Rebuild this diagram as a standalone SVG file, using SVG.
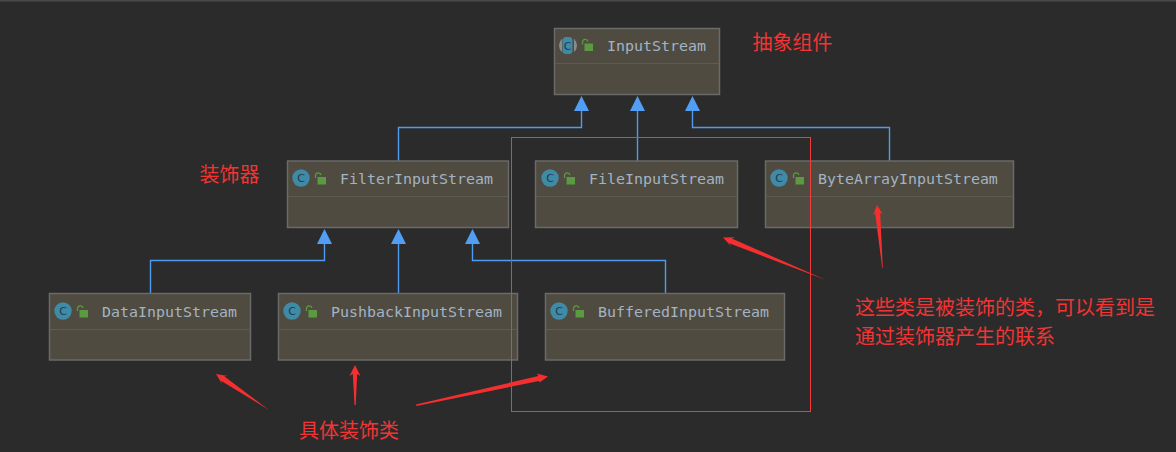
<svg xmlns="http://www.w3.org/2000/svg" width="1176" height="452" viewBox="0 0 1176 452">
<style>
.box{fill:#4f4b41;stroke:#6a6a68;stroke-width:1.5}
.div{stroke:#5e5b53;stroke-width:1.2}
.name{font-family:"DejaVu Sans Mono",monospace;font-size:14.95px;fill:#a2b3c4}
.ci{fill:#3f8aa6}
.cc{font-family:"DejaVu Sans",sans-serif;font-size:11px;fill:#1f3a48;text-anchor:middle}
.lock{fill:#5b9a41}
.shackle{fill:none;stroke:#5b9a41;stroke-width:1.3}
.edge{fill:none;stroke:#4f9bf0;stroke-width:1.4}
.head{fill:#529ef5}
.note{font-family:"Noto Sans CJK SC","Noto Sans CJK JP",sans-serif;font-size:20px;fill:#f23434}
.red{fill:none;stroke:#f03c3c;stroke-width:1}
.arrow{fill:#f52f2f}
</style>
<defs>
<g id="padlock">
<rect class="lock" x="25.500" y="17" width="8.500" height="7.500"/>
<path class="shackle" d="M23.500 18v-2.500a2.800 2.800 0 0 1 5.500-0.500"/>
</g>
<g id="badge">
<circle class="ci" cx="9" cy="18" r="8.700"/>
<text class="cc" x="9" y="22">C</text>
<use href="#padlock"/>
</g>
<g id="abstract-badge">
<circle cx="14" cy="17.500" r="9" fill="#8b8b88"/>
<rect x="8" y="7" width="12" height="21" fill="#4f4b41"/>
<rect x="8.500" y="9" width="10" height="17" rx="3.500" class="ci"/>
<text class="cc" x="13.500" y="21.500">C</text>
</g>
</defs>
<rect width="1176" height="452" fill="#2b2b2b"/>
<rect width="1176" height="1.500" fill="#4a4a4a"/>
<g id="connectors">
<path class="edge" d="M398.500 161V127.500H581.500V110"/>
<path class="edge" d="M637.500 161V110"/>
<path class="edge" d="M889.500 161V127.500H692.500V110"/>
<path class="edge" d="M150.500 293V260.500H324.500V243"/>
<path class="edge" d="M398.500 293V243"/>
<path class="edge" d="M665.500 293V260.500H472.500V243"/>
<polygon class="head" points="581.500,96 574,111 589,111"/>
<polygon class="head" points="637.500,96 630,111 645,111"/>
<polygon class="head" points="692.500,96 685,111 700,111"/>
<polygon class="head" points="324.500,229 317,244 332,244"/>
<polygon class="head" points="398.500,229 391,244 406,244"/>
<polygon class="head" points="472.500,229 465,244 480,244"/>
</g>
<g id="InputStream">
<rect class="box" x="554.500" y="28.500" width="165" height="66"/>
<path class="div" d="M555 63.500H719"/>
<use href="#abstract-badge" x="554" y="28"/>
<use href="#padlock" x="559" y="26.500"/>
<text class="name" x="607" y="51">InputStream</text>
</g>
<g id="FilterInputStream">
<rect class="box" x="287.500" y="161" width="221" height="66.500"/>
<path class="div" d="M288 196.500H508"/>
<use href="#badge" x="292" y="160"/>
<text class="name" x="340" y="184">FilterInputStream</text>
</g>
<g id="FileInputStream">
<rect class="box" x="535.500" y="161" width="202" height="66.500"/>
<path class="div" d="M536 196.500H737"/>
<use href="#badge" x="541" y="160"/>
<text class="name" x="589" y="184">FileInputStream</text>
</g>
<g id="ByteArrayInputStream">
<rect class="box" x="765.500" y="161" width="248" height="66.500"/>
<path class="div" d="M766 196.500H1013"/>
<use href="#badge" x="770" y="160"/>
<text class="name" x="818" y="184">ByteArrayInputStream</text>
</g>
<g id="DataInputStream">
<rect class="box" x="49.500" y="293.500" width="201" height="66.500"/>
<path class="div" d="M50 329.500H250"/>
<use href="#badge" x="54" y="293"/>
<text class="name" x="102" y="317">DataInputStream</text>
</g>
<g id="PushbackInputStream">
<rect class="box" x="278.500" y="293.500" width="239" height="66.500"/>
<path class="div" d="M279 329.500H517"/>
<use href="#badge" x="283" y="293"/>
<text class="name" x="331" y="317">PushbackInputStream</text>
</g>
<g id="BufferedInputStream">
<rect class="box" x="545.500" y="293.500" width="239" height="66.500"/>
<path class="div" d="M546 329.500H784"/>
<use href="#badge" x="550" y="293"/>
<text class="name" x="598" y="317">BufferedInputStream</text>
</g>
<g id="annotations">
<rect class="red" x="511.500" y="137.500" width="299" height="274"/>
<text class="note" x="752.500" y="49.500">抽象组件</text>
<text class="note" x="199.500" y="181.500">装饰器</text>
<text class="note" x="855" y="315">这些类是被装饰的类，可以看到是</text>
<text class="note" x="855" y="344">通过装饰器产生的联系</text>
<text class="note" x="299" y="438">具体装饰类</text>
<polygon class="arrow" points="723,237.500 735.100,237.300 731.800,238.600 826,280 729.200,243.200 731.300,246.500"/>
<polygon class="arrow" points="877,205 882.900,214.600 880.200,212.800 882.800,268 882.200,268 875.200,213.200 872.900,215.400"/>
<polygon class="arrow" points="216,374 227.900,376.100 224.200,376.300 269,410 221,380.700 222.300,384.300"/>
<polygon class="arrow" points="355,365 360.500,376 357.200,374 355.700,405 354.500,405 352.800,374 349.500,376"/>
<polygon class="arrow" points="548,376.500 537,373.500 538.500,376 416,404.500 416.500,406 539,381 539.500,382.500"/>
</g>
</svg>
